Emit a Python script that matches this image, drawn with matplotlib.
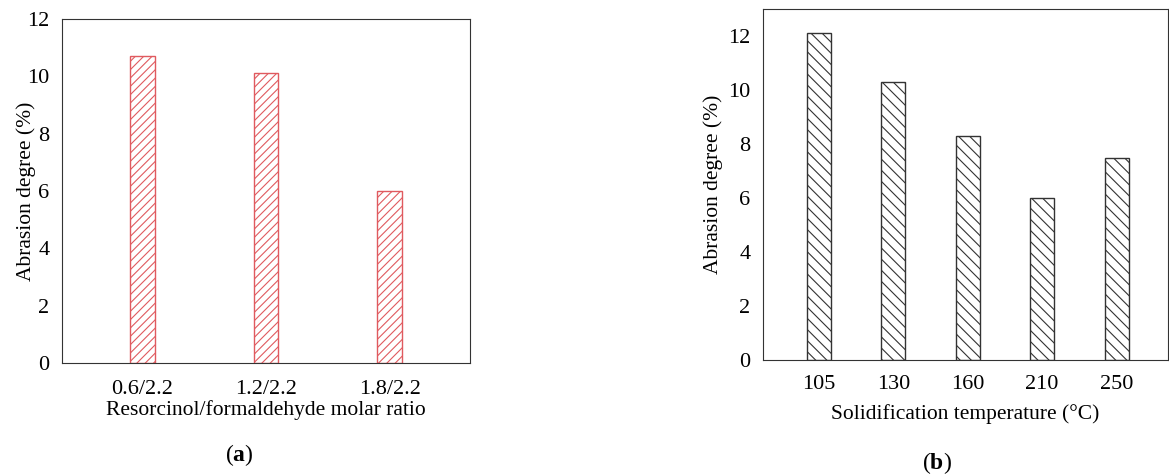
import matplotlib
matplotlib.use('Agg')
import matplotlib.pyplot as plt
import numpy as np

# data
ratios = ['0.6/2.2', '1.2/2.2', '1.8/2.2']
abrasion_ratio = [10.7, 10.1, 6.0]

temps = ['105', '130', '160', '210', '250']
abrasion_temp = [12.1, 10.3, 8.3, 6.0, 7.5]

plt.rcParams['font.family'] = ['Liberation Serif', 'DejaVu Serif']
plt.rcParams['mathtext.fontset'] = 'custom'
plt.rcParams['mathtext.bf'] = 'Liberation Serif:bold'
plt.rcParams['hatch.linewidth'] = 0.8

W, H = 1169, 474
fig = plt.figure(figsize=(W / 100, H / 100), dpi=100)


def px_axes(left, top, right, bottom):
    return fig.add_axes([left / W, 1 - bottom / H, (right - left) / W, (bottom - top) / H])


red = '#e05a5f'
fs = 16

# panel (a)
ax1 = px_axes(62, 19, 470, 363)
x1 = np.arange(len(ratios))
plt.rcParams['hatch.color'] = red
ax1.bar(x1, abrasion_ratio, width=0.2, facecolor='white', edgecolor=red,
        hatch='////', linewidth=1.0)
ax1.set_xlim(-0.65, 2.65)
ax1.set_ylim(0, 12)
ax1.set_yticks(range(0, 13, 2))
ax1.set_xticks(x1)
ax1.set_xticklabels(ratios)
ax1.set_ylabel('Abrasion degree (%)', fontsize=fs - 0.5, labelpad=-6)
ax1.set_xlabel('Resorcinol/formaldehyde molar ratio', fontsize=fs - 0.5, labelpad=1)
ax1.tick_params(axis='x', length=0, labelsize=fs, pad=12)
ax1.tick_params(axis='y', length=0, labelsize=fs, pad=9)
for s in ax1.spines.values():
    s.set_linewidth(0.8)
    s.set_color('#333333')

# panel (b)
ax2 = px_axes(763, 9, 1168, 360)
x2 = np.arange(len(temps))
plt.rcParams['hatch.color'] = '#222222'
ax2.bar(x2, abrasion_temp, width=0.32, facecolor='white', edgecolor='#333333',
        hatch='\\\\\\', linewidth=1.0)
ax2.set_xlim(-0.75, 4.69)
ax2.set_ylim(0, 13)
ax2.set_yticks(range(0, 13, 2))
ax2.set_xticks(x2)
ax2.set_xticklabels(temps)
ax2.set_ylabel('Abrasion degree (%)', fontsize=fs - 0.5, labelpad=4)
ax2.set_xlabel('Solidification temperature (°C)', fontsize=fs - 0.5, labelpad=7)
ax2.tick_params(axis='x', length=0, labelsize=fs, pad=11)
ax2.tick_params(axis='y', length=0, labelsize=fs, pad=9)
for s in ax2.spines.values():
    s.set_linewidth(0.8)
    s.set_color('#333333')

fig.text(239 / W, 1 - 455 / H, r'($\mathbf{a}$)', ha='center', va='center', fontsize=17)
fig.text(937 / W, 1 - 463 / H, r'($\mathbf{b}$)', ha='center', va='center', fontsize=17)

fig.savefig('out.png', dpi=100, facecolor='white')
